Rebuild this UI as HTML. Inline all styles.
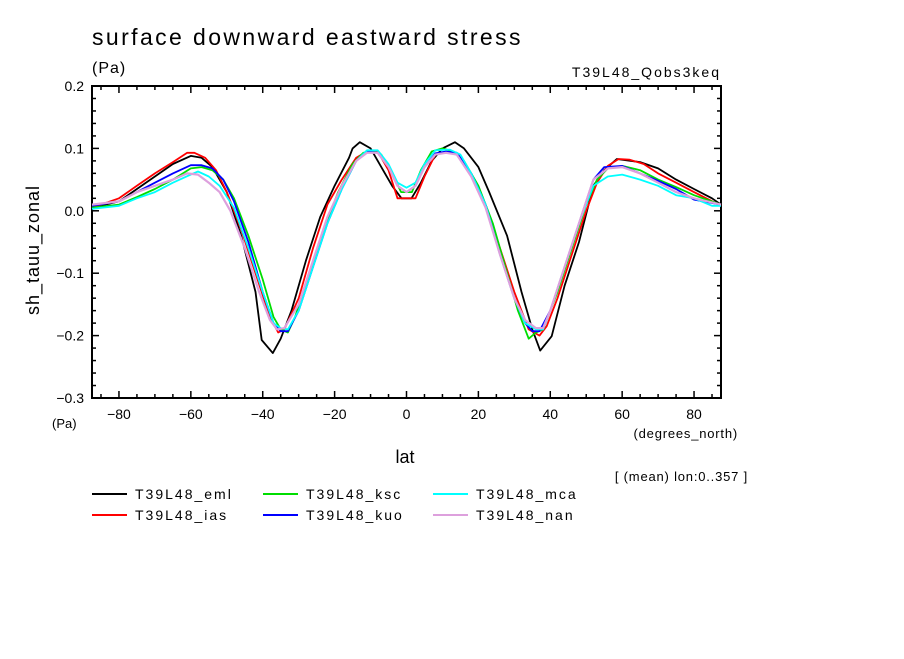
<!DOCTYPE html>
<html><head><meta charset="utf-8"><style>
body{margin:0;background:#fff;}
svg text{font-family:"Liberation Sans",sans-serif;fill:#000;}
</style></head><body>
<svg id="chart" width="904" height="654" xmlns="http://www.w3.org/2000/svg">
<rect width="904" height="654" fill="#fff"/>
<text x="92" y="45" font-size="23" letter-spacing="2.4">surface downward eastward stress</text>
<text x="92" y="73" font-size="16" letter-spacing="1">(Pa)</text>
<text x="721" y="77" font-size="14" text-anchor="end" letter-spacing="2">T39L48_Qobs3keq</text>
<text x="0" y="0" font-size="18" text-anchor="middle" letter-spacing="1" transform="translate(39,250) rotate(-90)">sh_tauu_zonal</text>
<text x="52" y="428" font-size="13">(Pa)</text>
<text x="405" y="463" font-size="18" text-anchor="middle">lat</text>
<text x="738" y="438" font-size="13" text-anchor="end" letter-spacing="0.8">(degrees_north)</text>
<text x="748" y="481" font-size="13" text-anchor="end" letter-spacing="0.8">[ (mean) lon:0..357 ]</text>
<g id="axes"></g>
<g id="series"></g>
<g id="legend"></g>
</svg>
<script>
const yTicks=[0.2,0.1,0.0,-0.1,-0.2,-0.3];
const yTickLabels=["0.2","0.1","0.0","\u22120.1","\u22120.2","\u22120.3"];
const xTicks=[-80,-60,-40,-20,0,20,40,60,80];
const xTickLabels=["\u221280","\u221260","\u221240","\u221220","0","20","40","60","80"];
const seriesNames=["T39L48_eml","T39L48_ias","T39L48_ksc","T39L48_kuo","T39L48_mca","T39L48_nan"];
const emlLat=[-87.5,-80,-75,-70,-65,-60,-57,-54,-50,-46,-42,-40.3,-37.2,-35,-32,-28,-24,-20,-16,-15,-13,-10,-7,-4,-1.4,1.4,4,7,10,13.5,16,20,23,28,32,35,37.2,40.4,44,48,52,55,58.5,65,70,75,80,85,87.5];
const emlVal=[0.005,0.015,0.035,0.055,0.075,0.088,0.085,0.07,0.03,-0.04,-0.13,-0.207,-0.228,-0.205,-0.16,-0.08,-0.01,0.04,0.085,0.1,0.11,0.1,0.07,0.04,0.02,0.02,0.045,0.08,0.1,0.11,0.1,0.07,0.03,-0.04,-0.13,-0.19,-0.224,-0.201,-0.12,-0.05,0.04,0.065,0.083,0.078,0.068,0.05,0.035,0.02,0.01];
const iasLat=[-87.5,-80,-75,-70,-65,-61,-59,-56,-53,-50,-46,-42,-38,-35.7,-34,-30,-26,-22,-18,-14,-11,-8,-5,-2.5,0,2.5,5,8,11,14,18,22,26,30,34,37,39,42,46,50,53,56,59,62,66,70,75,80,87.5];
const iasVal=[0.005,0.02,0.04,0.06,0.078,0.093,0.093,0.085,0.065,0.03,-0.03,-0.1,-0.17,-0.195,-0.19,-0.14,-0.06,0.01,0.05,0.085,0.095,0.095,0.065,0.02,0.02,0.02,0.055,0.09,0.095,0.09,0.06,0.01,-0.06,-0.13,-0.19,-0.2,-0.185,-0.14,-0.07,0,0.045,0.072,0.083,0.082,0.075,0.06,0.045,0.03,0.008];
const kscLat=[-87.5,-80,-75,-70,-65,-60,-57,-54,-51,-48,-44,-40,-37,-35,-33,-31,-27,-23,-19,-15,-12,-9,-7,-4,-1.5,1.5,4,7,10,13,16,20,24,28,31,34,36,38,42,46,50,53,56,60,65,70,75,80,87.5];
const kscVal=[0.005,0.01,0.022,0.035,0.05,0.068,0.07,0.065,0.05,0.02,-0.04,-0.11,-0.17,-0.19,-0.195,-0.17,-0.1,-0.03,0.03,0.075,0.093,0.095,0.09,0.06,0.03,0.03,0.065,0.095,0.1,0.095,0.08,0.04,-0.02,-0.1,-0.16,-0.205,-0.195,-0.19,-0.13,-0.06,0.01,0.05,0.068,0.072,0.065,0.05,0.038,0.025,0.01];
const kuoLat=[-87.5,-80,-75,-70,-65,-60,-57,-54,-51,-48,-44,-40,-37,-35,-33,-30,-26,-22,-18,-14,-11,-8,-5,-2.5,0,2.5,5,8,11,14,18,22,26,30,33,35,37,40,44,48,52,55,60,65,70,75,80,87.5];
const kuoVal=[0.008,0.015,0.03,0.045,0.06,0.073,0.073,0.068,0.05,0.015,-0.05,-0.13,-0.18,-0.193,-0.193,-0.16,-0.09,-0.02,0.035,0.08,0.095,0.093,0.07,0.04,0.03,0.04,0.07,0.092,0.095,0.093,0.06,0.01,-0.07,-0.14,-0.18,-0.193,-0.193,-0.16,-0.09,-0.02,0.05,0.07,0.072,0.06,0.048,0.035,0.018,0.01];
const mcaLat=[-87.5,-80,-75,-70,-65,-60,-58,-55,-52,-48,-44,-40,-37,-35,-33,-30,-26,-22,-18,-14,-11,-8,-5,-2.5,0,2.5,5,8,12,15,18,22,26,30,33,36,38,40,44,48,52,56,60,65,70,75,80,85,87.5];
const mcaVal=[0.003,0.008,0.02,0.03,0.045,0.058,0.063,0.055,0.04,0.005,-0.06,-0.13,-0.18,-0.188,-0.19,-0.16,-0.09,-0.02,0.035,0.08,0.097,0.097,0.075,0.045,0.037,0.045,0.075,0.097,0.098,0.09,0.06,0.01,-0.07,-0.14,-0.18,-0.19,-0.19,-0.16,-0.09,-0.02,0.04,0.055,0.058,0.05,0.04,0.025,0.02,0.008,0.008];
const nanLat=[-87.5,-80,-75,-70,-65,-61,-58,-55,-52,-49,-45,-41,-38,-36,-34,-30,-26,-22,-18,-14,-11,-8,-5,-2.5,0,2.5,5,8,11,14,18,22,26,30,33,36,38,40,44,48,52,56,60,65,70,75,80,87.5];
const nanVal=[0.01,0.015,0.03,0.04,0.05,0.06,0.058,0.045,0.03,0,-0.06,-0.13,-0.175,-0.19,-0.188,-0.15,-0.08,-0.01,0.04,0.08,0.093,0.093,0.07,0.04,0.03,0.04,0.07,0.09,0.093,0.09,0.055,0.005,-0.07,-0.14,-0.175,-0.188,-0.188,-0.16,-0.09,-0.02,0.05,0.068,0.07,0.06,0.045,0.03,0.02,0.01];
const seriesLats=[emlLat,iasLat,kscLat,kuoLat,mcaLat,nanLat];
const seriesVals=[emlVal,iasVal,kscVal,kuoVal,mcaVal,nanVal];
const colors=["#000000","#ff0000","#00dd00","#0000ff","#00ffff","#dda0dd"];

const L=92,R=721,T=86,B=398,xMin=-87.5,xMax=87.5,yMin=-0.3,yMax=0.2;
const xs=v=>L+(v-xMin)/(xMax-xMin)*(R-L);
const ys=v=>B-(v-yMin)/(yMax-yMin)*(B-T);
const NS="http://www.w3.org/2000/svg";
function mk(tag,attrs,parent){const e=document.createElementNS(NS,tag);for(const k in attrs)e.setAttribute(k,attrs[k]);parent.appendChild(e);return e;}
const axes=document.getElementById('axes');
const frame=mk('rect',{x:L,y:T,width:R-L,height:B-T,fill:'none',stroke:'#000','stroke-width':2},axes);


for(let v=-85;v<=85;v+=5){
  const major=v%20===0;const len=major?7:4;const x=xs(v);
  mk('line',{x1:x,x2:x,y1:B,y2:B-len,stroke:'#000','stroke-width':1.5},axes);
  mk('line',{x1:x,x2:x,y1:T,y2:T+len,stroke:'#000','stroke-width':1.5},axes);
}
for(let i=0;i<=25;i++){
  const v=yMin+i*0.02;const major=i%5===0;const len=major?7:4;const y=ys(v);
  mk('line',{x1:L,x2:L+len,y1:y,y2:y,stroke:'#000','stroke-width':1.5},axes);
  mk('line',{x1:R,x2:R-len,y1:y,y2:y,stroke:'#000','stroke-width':1.5},axes);
}
xTicks.forEach((v,i)=>{
  const t=mk('text',{x:xs(v),y:B+21,'font-size':14,'text-anchor':'middle'},axes);
  t.textContent=xTickLabels[i];
  
  
});
yTicks.forEach((v,i)=>{
  const t=mk('text',{x:84,y:ys(v)+5,'font-size':14,'text-anchor':'end'},axes);
  t.textContent=yTickLabels[i];
  
  
});
const sg=document.getElementById('series');
seriesNames.forEach((n,s)=>{
  const pts=seriesLats[s].map((la,i)=>xs(la).toFixed(1)+','+ys(seriesVals[s][i]).toFixed(1)).join(' ');
  const p=mk('polyline',{points:pts,fill:'none',stroke:colors[s],'stroke-width':s==5?2.2:1.8,'stroke-linejoin':'round'},sg);
  
  
});
const lg=document.getElementById('legend');
seriesNames.forEach((n,s)=>{
  const col=Math.floor(s/2), row=s%2;
  const cx=[92,263,433][col], cy=494+row*21;
  const g=mk('g',{},lg);
  
  
  mk('line',{x1:cx,x2:cx+35,y1:cy,y2:cy,stroke:colors[s],'stroke-width':2},g);
  const t=mk('text',{x:cx+43,y:cy+5,'font-size':14,'letter-spacing':2},g);
  t.textContent=n;
});
</script>
</body></html>
